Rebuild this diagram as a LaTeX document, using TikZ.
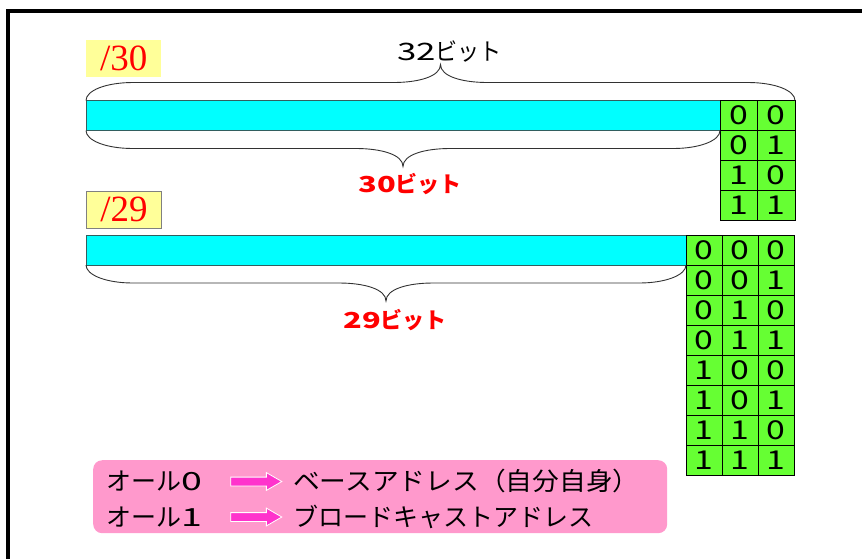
\documentclass[tikz,border=0pt]{standalone}
\usepackage{fontspec}
\setmainfont{Liberation Serif}
\newfontfamily\cjk{Noto Sans CJK JP}
\usetikzlibrary{calc,shapes.arrows}
\definecolor{cyanbar}{RGB}{0,255,255}
\definecolor{greencell}{RGB}{102,255,51}
\definecolor{yellowlab}{RGB}{255,255,153}
\definecolor{pinkbox}{RGB}{255,153,204}
\definecolor{arrowpink}{RGB}{255,51,204}
\definecolor{barline}{RGB}{50,95,95}
\definecolor{braceline}{RGB}{50,50,50}
\newcommand{\sx}[2]{\scalebox{#1}[1]{#2}}
\newcommand{\mybrc}[3]{%
  \draw[bracestyle] let \p1=(#1), \p2=(#2), \n1={0.5*(\x1+\x2)} in
   (\p1) .. controls (\x1,{\y1+(#3)*10pt}) and ({\x1+20pt},{\y1+(#3)*18pt}) .. ({\x1+47pt},{\y1+(#3)*18pt})
   -- ({\n1-47pt},{\y1+(#3)*18pt})
   .. controls ({\n1-22pt},{\y1+(#3)*18pt}) and (\n1,{\y1+(#3)*24pt}) .. (\n1,{\y1+(#3)*36pt})
   .. controls (\n1,{\y1+(#3)*24pt}) and ({\n1+22pt},{\y1+(#3)*18pt}) .. ({\n1+47pt},{\y1+(#3)*18pt})
   -- ({\x2-47pt},{\y1+(#3)*18pt})
   .. controls ({\x2-20pt},{\y1+(#3)*18pt}) and (\x2,{\y1+(#3)*10pt}) .. (\x2,\y2);}
\begin{document}
\begin{tikzpicture}[x=1pt,y=-1pt,
  barbox/.style={draw=barline, line width=1pt, fill=cyanbar, anchor=north west, inner sep=0pt, outer sep=0pt},
  gcell/.style={draw=black, line width=0.8pt, fill=greencell, minimum width=#1, minimum height=30pt, inner sep=0pt, outer sep=0pt, font=\cjk\fontsize{26}{28}\selectfont},
  gcell/.default=36pt,
  pfxbox/.style={text=red, font=\fontsize{37}{40}\selectfont, fill=yellowlab, minimum width=75pt, minimum height=37pt, inner sep=0pt, anchor=north west},
  bracestyle/.style={draw=braceline, line width=0.9pt},
  toplab/.style={font=\cjk\fontsize{24}{28}\selectfont, inner sep=0pt},
  redlab/.style={text=red, font=\cjk\bfseries\fontsize{22}{26}\selectfont, inner sep=0pt},
  legtext/.style={font=\cjk\fontsize{25}{28}\selectfont, anchor=west, inner sep=0pt},
  fatarrow/.style={single arrow, fill=arrowpink, draw=white, line width=0.8pt, minimum height=51pt, minimum width=17pt, inner sep=4pt, single arrow head extend=4.5pt, single arrow tip angle=60}
]
\useasboundingbox (0,0) rectangle (862,558);
% frame
\draw[line width=3.5pt, line join=miter] (8,562) -- (8,11) -- (866,11);

% /30 section
\node[pfxbox] (p30) at (86,40) {/30};
\node[barbox, minimum width=634pt, minimum height=30pt] (b1) at (86,100.5) {};
\foreach \r/\a/\b in {0/0/0,1/0/1,2/1/0,3/1/1}{
  \node[gcell=37.5pt] (a\r0) at (738.75,{115.5+30*\r}) {\sx{1.3}{\a}};
  \node[gcell=37.5pt] (a\r1) at (776.25,{115.5+30*\r}) {\sx{1.3}{\b}};
}
\coordinate (t1L) at (b1.north west);
\coordinate (t1R) at (a01.north east);
\mybrc{t1L}{t1R}{1}
\node[toplab] (l32) at (449.5,52) {\sx{1.45}{32}\sx{0.92}{ビット}};
\coordinate (b1L) at (b1.south west);
\coordinate (b1R) at (b1.south east);
\mybrc{b1L}{b1R}{-1}
\node[redlab] (l30) at (410,184) {\sx{1.4}{30}ビット};

% /29 section
\node[pfxbox, draw=gray, line width=0.8pt] (p29) at (86,190.5) {/29};
\node[barbox, minimum width=600pt, minimum height=30pt] (b2) at (86,235) {};
\foreach \r/\a/\b/\c in {0/0/0/0,1/0/0/1,2/0/1/0,3/0/1/1,4/1/0/0,5/1/0/1,6/1/1/0,7/1/1/1}{
  \node[gcell] (c\r0) at (704,{250+30*\r}) {\sx{1.3}{\a}};
  \node[gcell] (c\r1) at (740,{250+30*\r}) {\sx{1.3}{\b}};
  \node[gcell] (c\r2) at (776,{250+30*\r}) {\sx{1.3}{\c}};
}
\coordinate (b2L) at (b2.south west);
\coordinate (b2R) at (b2.south east);
\mybrc{b2L}{b2R}{-1}
\node[redlab] (l29) at (395,320) {\sx{1.4}{29}ビット};

% legend
\node[fill=pinkbox, rounded corners=9pt, minimum width=574pt, minimum height=73pt, anchor=north west, inner sep=0pt] (legend) at (93,460) {};
\node[legtext] (o0) at (106,481) {オール\sx{1.5}{0}};
\node[fatarrow] (arr1) at (252.5,481.5) {};
\node[legtext] (r0) at (293,481) {\sx{1.07}{ベースアドレス（自分自身）}};
\node[legtext] (o1) at (106,517) {オール\sx{1.5}{1}};
\node[fatarrow] (arr2) at (252.5,517) {};
\node[legtext] (r1) at (293,517) {ブロードキャストアドレス};
\end{tikzpicture}
\end{document}
